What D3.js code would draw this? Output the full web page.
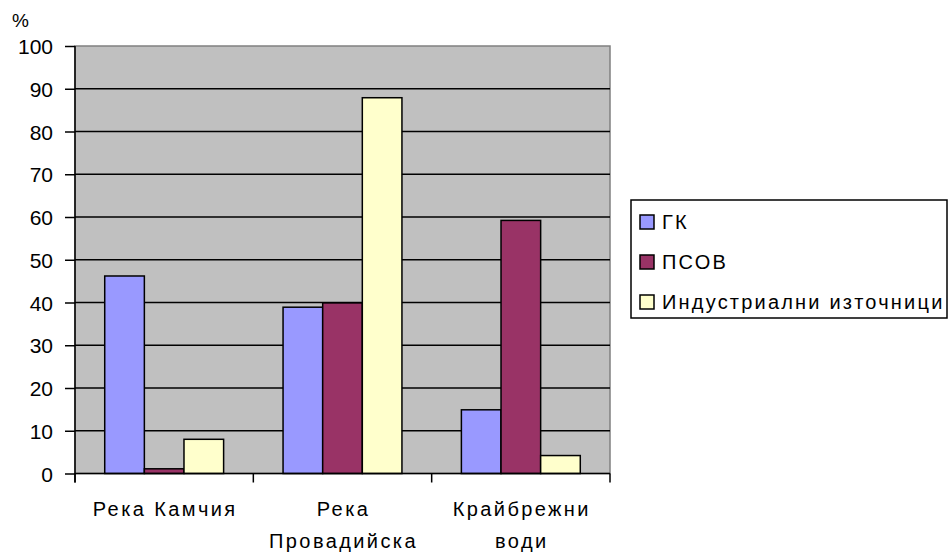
<!DOCTYPE html>
<html><head><meta charset="utf-8">
<script src="https://cdn.jsdelivr.net/npm/d3@7"></script>
<style>
body{margin:0;background:#fff;}
text{font-family:"Liberation Sans",Arial,sans-serif;fill:#000;}
</style></head>
<body>
<svg id="c" width="952" height="553"></svg>
<script>
const categories = [["Река Камчия"], ["Река", "Провадийска"], ["Крайбрежни", "води"]];
const seriesNames = ["ГК", "ПСОВ", "Индустриални източници"];
const seriesColors = ["#9999FF", "#993366", "#FFFFCC"];
const valuesGK = [46.2, 38.9, 14.9];
const valuesPSOV = [1.1, 39.9, 59.2];
const valuesInd = [8.0, 87.9, 4.2];
const yTicks = [0,10,20,30,40,50,60,70,80,90,100];
const yUnit = "%";

const seriesValues = [valuesGK, valuesPSOV, valuesInd];
const svg = d3.select("#c");
const L = 75, R = 610, T = 46, B = 473.5;

const x0 = d3.scaleBand().domain(d3.range(categories.length)).range([L, R]).paddingInner(0).paddingOuter(0);
const x1 = d3.scaleBand().domain(d3.range(seriesNames.length)).range([0, x0.bandwidth()]).paddingInner(0).paddingOuter(0.75);
const y = d3.scaleLinear().domain([0, 100]).range([B, T]);

// plot area
svg.append("rect").attr("x", L).attr("y", T).attr("width", R - L).attr("height", B - T)
  .attr("fill", "#C0C0C0").attr("stroke", "#808080").attr("stroke-width", 1.5);

// gridlines
svg.append("g").selectAll("line").data(yTicks.filter(d => d > 0 && d < 100)).join("line")
  .attr("x1", L).attr("x2", R).attr("y1", d => y(d)).attr("y2", d => y(d))
  .attr("stroke", "#000").attr("stroke-width", 1.6);

// bars
seriesValues.forEach((vals, si) => {
  svg.append("g").selectAll("rect").data(vals).join("rect")
    .attr("x", (d, i) => x0(i) + x1(si))
    .attr("y", d => y(d))
    .attr("width", x1.bandwidth())
    .attr("height", d => B - y(d))
    .attr("fill", seriesColors[si])
    .attr("stroke", "#000").attr("stroke-width", 1.5);
});

// y axis
const yAxis = d3.axisLeft(y).tickValues(yTicks).tickSize(10).tickPadding(12).tickSizeOuter(0);
const gy = svg.append("g").attr("transform", `translate(${L},0)`).call(yAxis);
gy.select(".domain").attr("stroke", "#000").attr("stroke-width", 1.5).attr("d", `M0,${T}V${B + 9}`);
gy.selectAll(".tick line").attr("stroke", "#000").attr("stroke-width", 1.5);
gy.selectAll(".tick text").attr("font-size", 21).attr("font-family", "Liberation Sans, Arial, sans-serif").attr("fill", "#000").attr("dy", "0.36em");

// x axis
const gx = svg.append("g").attr("transform", `translate(0,${B})`);
gx.append("line").attr("x1", L).attr("x2", R).attr("y1", 0).attr("y2", 0).attr("stroke", "#000").attr("stroke-width", 1.5);
gx.selectAll("line.tk").data(d3.range(categories.length + 1)).join("line").attr("class", "tk")
  .attr("x1", i => L + i * x0.step()).attr("x2", i => L + i * x0.step())
  .attr("y1", 0).attr("y2", 9).attr("stroke", "#000").attr("stroke-width", 1.5);
categories.forEach((lines, i) => {
  const t = svg.append("text").attr("text-anchor", "middle").attr("font-size", 20).attr("letter-spacing", "2.4px");
  lines.forEach((ln, j) => {
    t.append("tspan").attr("x", x0(i) + x0.bandwidth() / 2 + 1).attr("y", 516 + j * 32).text(ln);
  });
});

// unit
svg.append("text").attr("x", 12).attr("y", 27).attr("font-size", 19).text(yUnit);

// legend
const lg = svg.append("g");
lg.append("rect").attr("x", 631).attr("y", 200).attr("width", 316).attr("height", 118)
  .attr("fill", "#fff").attr("stroke", "#000").attr("stroke-width", 1.5);
seriesNames.forEach((n, i) => {
  const yy = 215 + i * 40;
  lg.append("rect").attr("x", 640).attr("y", yy).attr("width", 14).attr("height", 14)
    .attr("fill", seriesColors[i]).attr("stroke", "#000").attr("stroke-width", 1.5);
  lg.append("text").attr("x", 662).attr("y", yy + 14).attr("font-size", 20).attr("letter-spacing", "2.2px").text(n);
});
</script>
</body></html>
